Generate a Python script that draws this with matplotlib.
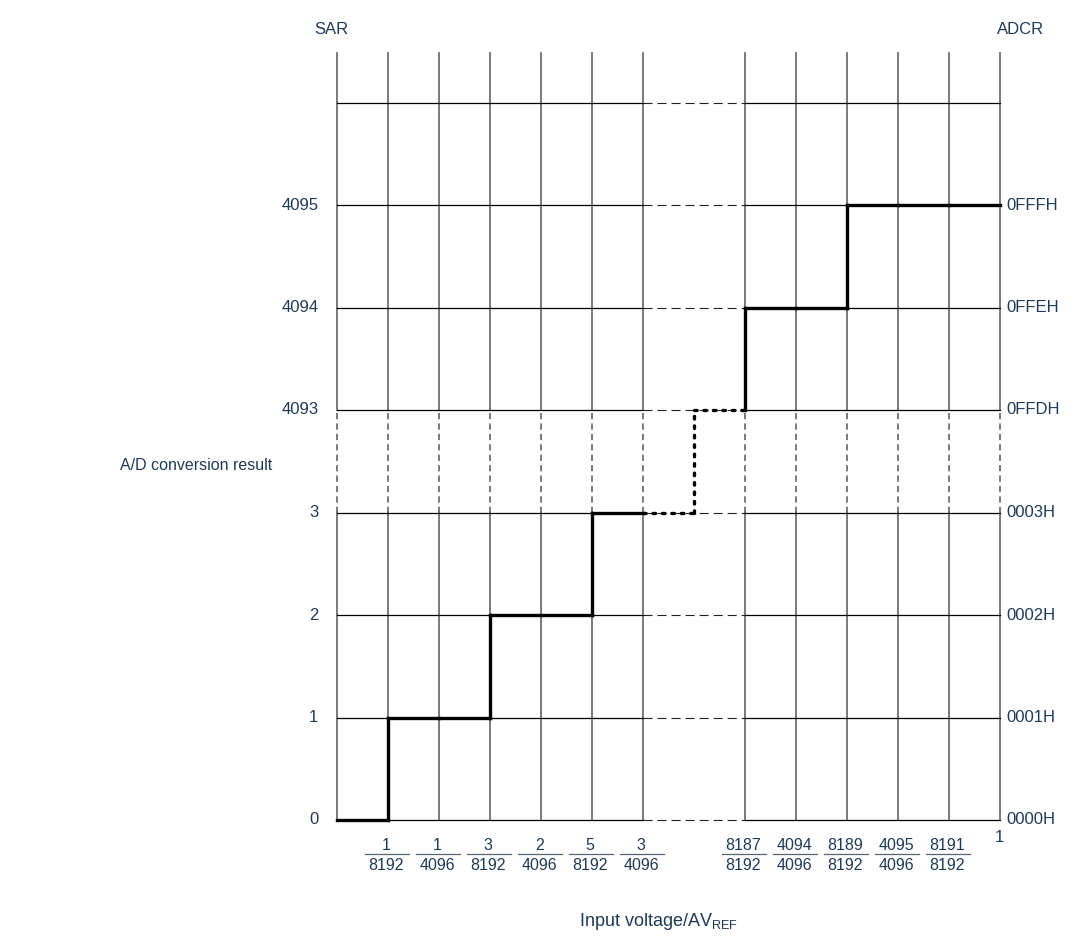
import matplotlib
matplotlib.use("Agg")
import matplotlib.pyplot as plt

plt.rcParams['font.family'] = ['Liberation Sans', 'DejaVu Sans']
plt.rcParams['mathtext.fontset'] = 'custom'
plt.rcParams['mathtext.rm'] = 'Liberation Sans'
plt.rcParams['lines.scale_dashes'] = False

# ---- data ----
sar_labels = ['0', '1', '2', '3', '4093', '4094', '4095']
adcr_labels = ['0000H', '0001H', '0002H', '0003H', '0FFDH', '0FFEH', '0FFFH']
# conversion code in each input-voltage column (13 columns)
column_codes = ['0', '1', '1', '2', '2', '3', '3', '4093', '4094', '4094', '4095', '4095', '4095']
dotted_columns = [6, 7]          # columns drawn as the omitted (dotted) part
frac_positions = [1, 2, 3, 4, 5, 6, 8, 9, 10, 11, 12]
frac_num = ['1', '1', '3', '2', '5', '3', '8187', '4094', '8189', '4095', '8191']
frac_den = ['8192', '4096', '8192', '4096', '8192', '4096', '8192', '4096', '8192', '4096', '8192']

TXT = '#1f3a56'
GRID_V = '#707070'
n_cols = len(column_codes)
n_rows = len(sar_labels)          # rows 0..6 plus a top line at row 7
gap_lo, gap_hi = 6, 8            # omitted column span on x
dash_row_lo, dash_row_hi = 3, 4  # omitted row span on y
top = 7.48

fig = plt.figure(figsize=(10.79, 9.36), dpi=100)
ax = fig.add_axes([336.7 / 1079, 116 / 936, 663 / 1079, 717.5 / 936])
ax.set_xlim(0, n_cols)
ax.set_ylim(0, 7)
ax.axis('off')

# vertical grid lines
for i in range(n_cols + 1):
    if i == 7:
        continue
    ax.plot([i, i], [0, dash_row_lo], color=GRID_V, lw=1.3, clip_on=False, zorder=1)
    ax.plot([i, i], [dash_row_lo, dash_row_hi], color=GRID_V, lw=1.3, clip_on=False, zorder=1,
            linestyle=(0, (4.5, 3.0)))
    ax.plot([i, i], [dash_row_hi, top], color=GRID_V, lw=1.3, clip_on=False, zorder=1)

# horizontal grid lines
for r in range(n_rows + 1):
    ax.plot([0, gap_lo], [r, r], color='black', lw=0.9, clip_on=False, zorder=2)
    ax.plot([gap_hi, n_cols], [r, r], color='black', lw=0.9, clip_on=False, zorder=2)
    ax.plot([gap_lo, gap_hi], [r, r], color='#222222', lw=0.8, clip_on=False, zorder=2,
            linestyle=(0, (6.5, 3.6)))

# staircase
DOT = (0, (1.9, 4.9))
row_of = {c: i for i, c in enumerate(sar_labels)}
levels = [row_of[c] for c in column_codes]
for i, lv in enumerate(levels):
    dotted = i in dotted_columns
    ls = DOT if dotted else '-'
    ax.plot([i, i + 1], [lv, lv], color='black', lw=2.4, linestyle=ls,
            dash_capstyle='round', solid_capstyle='projecting', clip_on=False, zorder=4)
    if i > 0 and levels[i - 1] != lv:
        vdotted = i in dotted_columns and (i - 1) in dotted_columns
        ls_v = DOT if vdotted else '-'
        ax.plot([i, i], [levels[i - 1], lv], color='black', lw=2.4, linestyle=ls_v,
                dash_capstyle='round', solid_capstyle='projecting', clip_on=False, zorder=4)

# row labels
for r, (s, a) in enumerate(zip(sar_labels, adcr_labels)):
    ax.text(-0.36, r, s, ha='right', va='center', fontsize=12, color=TXT)
    ax.text(n_cols + 0.14, r, a, ha='left', va='center', fontsize=12, color=TXT)

# fraction tick labels
for p, nu, de in zip(frac_positions, frac_num, frac_den):
    ax.text(p - 0.03, -0.245, nu, ha='center', va='center', fontsize=11.5, color=TXT)
    ax.plot([p - 0.45, p + 0.42], [-0.33, -0.33], color='#5a6470', lw=0.9, clip_on=False)
    ax.text(p - 0.03, -0.44, de, ha='center', va='center', fontsize=11.5, color=TXT)
ax.text(n_cols, -0.175, '1', ha='center', va='center', fontsize=12, color=TXT)

# titles
ax.text(-0.11, 7.71, 'SAR', ha='center', va='center', fontsize=12, color=TXT)
ax.text(13.4, 7.71, 'ADCR', ha='center', va='center', fontsize=12, color=TXT)
ax.text(-2.76, 3.46, 'A/D conversion result', ha='center', va='center', fontsize=11.5, color=TXT)
ax.text(6.3, -0.995, r'Input voltage/AV$_{\mathregular{REF}}$', ha='center', va='center',
        fontsize=13, color=TXT)

fig.savefig('out.png', dpi=100)
